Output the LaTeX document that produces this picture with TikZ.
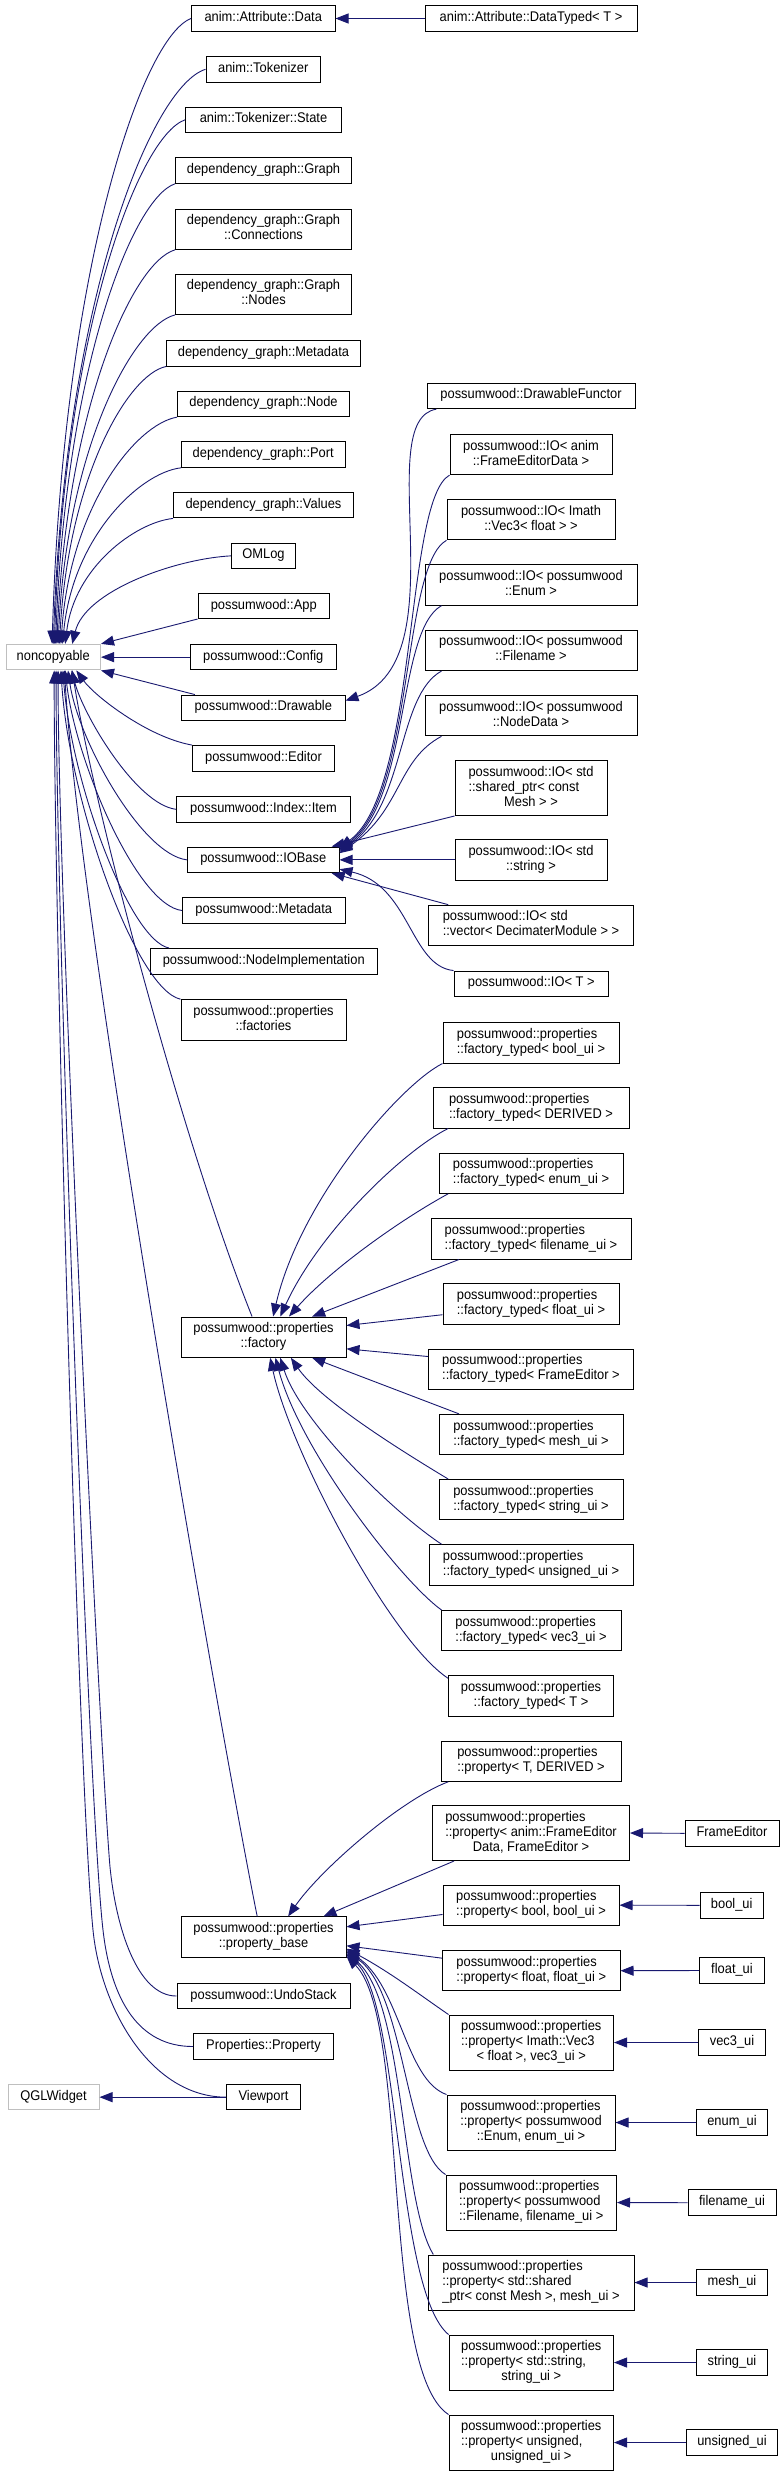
\documentclass[tikz,border=0pt]{standalone}
\usepackage{fontspec}
\setmainfont{Liberation Sans}[FakeStretch=0.92]
\usetikzlibrary{arrows.meta}
\definecolor{edgeblue}{HTML}{191970}
\definecolor{extgray}{HTML}{BFBFBF}
\newcommand{\ctext}[1]{\begin{tabular}{@{}c@{}}#1\end{tabular}}
\newcommand{\ltext}[1]{\begin{tabular}{@{}l@{}}#1\end{tabular}}
\newcommand{\ctr}[1]{\multicolumn{1}{@{}c@{}}{#1}}

\begin{document}
\begin{tikzpicture}[x=1pt, y=-1pt,
    cls/.style={draw=black, line width=1pt, fill=white, inner sep=0pt,
                minimum height=25.6pt, font=\fontsize{14}{15}\selectfont},
    ext/.style={cls, draw=extgray},
    h2/.style={minimum height=40.3pt},
    h3/.style={minimum height=55pt},
    edge/.style={draw=edgeblue, line width=0.9pt,
                 -{Triangle[length=13pt,width=10pt]}},
  ]
  \path[fill=white] (0,0) rectangle (781,2476);

  \node[ext, minimum width=94.5] (nc) at (53.25,657.15) {\ctext{noncopyable}};
  \node[ext, minimum width=91] (qgl) at (53.5,2097.15) {\ctext{QGLWidget}};

  \node[cls, minimum width=143.5] (data) at (263.25,18.5) {\ctext{anim::Attribute::Data}};
  \node[cls, minimum width=212] (dtyped) at (531,18.5) {\ctext{anim::Attribute::DataTyped< T >}};
  \node[cls, minimum width=114.5] (tok) at (263.25,69.3) {\ctext{anim::Tokenizer}};
  \node[cls, minimum width=156] (tokst) at (263.5,119.85) {\ctext{anim::Tokenizer::State}};
  \node[cls, minimum width=176] (graph) at (263.5,170.5) {\ctext{dependency\_graph::Graph}};
  \node[cls, h2, minimum width=176] (gconn) at (263.5,229.2) {\ctext{dependency\_graph::Graph\\::Connections}};
  \node[cls, h2, minimum width=176] (gnodes) at (263.5,294.3) {\ctext{dependency\_graph::Graph\\::Nodes}};
  \node[cls, minimum width=194] (dgmeta) at (263.5,353.2) {\ctext{dependency\_graph::Metadata}};
  \node[cls, minimum width=172] (dgnode) at (263.5,403.85) {\ctext{dependency\_graph::Node}};
  \node[cls, minimum width=163.5] (dgport) at (263.25,454.5) {\ctext{dependency\_graph::Port}};
  \node[cls, minimum width=180] (dgval) at (263.5,505.15) {\ctext{dependency\_graph::Values}};
  \node[cls, minimum width=64] (omlog) at (263.5,555.85) {\ctext{OMLog}};
  \node[cls, minimum width=131.5] (app) at (263.75,606.15) {\ctext{possumwood::App}};
  \node[cls, minimum width=146.5] (config) at (263.25,657.15) {\ctext{possumwood::Config}};
  \node[cls, minimum width=163.5] (drawable) at (263.25,707.85) {\ctext{possumwood::Drawable}};
  \node[cls, minimum width=142] (editor) at (263.5,758.35) {\ctext{possumwood::Editor}};
  \node[cls, minimum width=174] (item) at (263.5,809.3) {\ctext{possumwood::Index::Item}};
  \node[cls, minimum width=151.5] (iobase) at (263.25,859.85) {\ctext{possumwood::IOBase}};
  \node[cls, minimum width=162.5] (meta) at (263.75,910.5) {\ctext{possumwood::Metadata}};
  \node[cls, minimum width=227.5] (nodeimpl) at (263.75,961.35) {\ctext{possumwood::NodeImplementation}};
  \node[cls, h2, minimum width=165] (factories) at (263.5,1019.85) {\ctext{possumwood::properties\\::factories}};
  \node[cls, h2, minimum width=165] (factory) at (263.5,1337.15) {\ctext{possumwood::properties\\::factory}};
  \node[cls, h2, minimum width=165] (pbase) at (263.5,1937) {\ctext{possumwood::properties\\::property\_base}};
  \node[cls, minimum width=173] (undo) at (263.5,1996) {\ctext{possumwood::UndoStack}};
  \node[cls, minimum width=140] (prop) at (263.5,2046.5) {\ctext{Properties::Property}};
  \node[cls, minimum width=74] (viewport) at (263.5,2097.15) {\ctext{Viewport}};

  \node[cls, minimum width=208] (dfunctor) at (531,395.85) {\ctext{possumwood::DrawableFunctor}};
  \node[cls, h2, minimum width=162] (iofed) at (531,454.5) {\ctext{possumwood::IO< anim\\::FrameEditorData >}};
  \node[cls, h2, minimum width=168] (iovec3) at (531,519.65) {\ctext{possumwood::IO< Imath\\::Vec3< float > >}};
  \node[cls, h2, minimum width=212] (ioenum) at (531,585) {\ctext{possumwood::IO< possumwood\\::Enum >}};
  \node[cls, h2, minimum width=212] (iofile) at (531,650.35) {\ctext{possumwood::IO< possumwood\\::Filename >}};
  \node[cls, h2, minimum width=212] (ionode) at (531,715.65) {\ctext{possumwood::IO< possumwood\\::NodeData >}};
  \node[cls, h3, minimum width=152] (ioshared) at (531,788) {\ltext{possumwood::IO< std\\::shared\_ptr< const\\\ctr{Mesh > >}}};
  \node[cls, h2, minimum width=152] (iostring) at (531,859.85) {\ctext{possumwood::IO< std\\::string >}};
  \node[cls, h2, minimum width=205] (iovector) at (531,925.3) {\ltext{possumwood::IO< std\\::vector< DecimaterModule > >}};
  \node[cls, minimum width=154.5] (iot) at (531.25,983.85) {\ctext{possumwood::IO< T >}};

  \node[cls, h2, minimum width=176] (ftbool) at (531,1042.85) {\ltext{possumwood::properties\\::factory\_typed< bool\_ui >}};
  \node[cls, h2, minimum width=196] (ftderived) at (531,1107.85) {\ltext{possumwood::properties\\::factory\_typed< DERIVED >}};
  \node[cls, h2, minimum width=184] (ftenum) at (531,1173.15) {\ltext{possumwood::properties\\::factory\_typed< enum\_ui >}};
  \node[cls, h2, minimum width=200] (ftfile) at (531,1238.85) {\ltext{possumwood::properties\\::factory\_typed< filename\_ui >}};
  \node[cls, h2, minimum width=176] (ftfloat) at (531,1303.85) {\ltext{possumwood::properties\\::factory\_typed< float\_ui >}};
  \node[cls, h2, minimum width=205] (ftframe) at (531,1369.15) {\ltext{possumwood::properties\\::factory\_typed< FrameEditor >}};
  \node[cls, h2, minimum width=184] (ftmesh) at (531,1434.5) {\ltext{possumwood::properties\\::factory\_typed< mesh\_ui >}};
  \node[cls, h2, minimum width=184] (ftstring) at (531,1499.65) {\ltext{possumwood::properties\\::factory\_typed< string\_ui >}};
  \node[cls, h2, minimum width=204] (ftunsigned) at (531,1564.85) {\ltext{possumwood::properties\\::factory\_typed< unsigned\_ui >}};
  \node[cls, h2, minimum width=180] (ftvec3) at (531,1630.65) {\ltext{possumwood::properties\\::factory\_typed< vec3\_ui >}};
  \node[cls, h2, minimum width=165] (ftt) at (531,1695.85) {\ctext{possumwood::properties\\::factory\_typed< T >}};

  \node[cls, h2, minimum width=180] (pt) at (531,1761.15) {\ltext{possumwood::properties\\::property< T, DERIVED >}};
  \node[cls, h3, minimum width=197] (pfe) at (531,1833) {\ltext{possumwood::properties\\::property< anim::FrameEditor\\\ctr{Data, FrameEditor >}}};
  \node[cls, h2, minimum width=176] (pbool) at (531,1905.15) {\ltext{possumwood::properties\\::property< bool, bool\_ui >}};
  \node[cls, h2, minimum width=177.5] (pfloat) at (531.25,1970.7) {\ltext{possumwood::properties\\::property< float, float\_ui >}};
  \node[cls, h3, minimum width=164.5] (pvec3) at (531.25,2042.5) {\ltext{possumwood::properties\\::property< Imath::Vec3\\\ctr{< float >, vec3\_ui >}}};
  \node[cls, h3, minimum width=168] (penum) at (531,2122.5) {\ltext{possumwood::properties\\::property< possumwood\\\ctr{::Enum, enum\_ui >}}};
  \node[cls, h3, minimum width=170.5] (pfile) at (531.25,2202.5) {\ltext{possumwood::properties\\::property< possumwood\\::Filename, filename\_ui >}};
  \node[cls, h3, minimum width=206] (pshared) at (531,2282.5) {\ltext{possumwood::properties\\::property< std::shared\\\_ptr< const Mesh >, mesh\_ui >}};
  \node[cls, h3, minimum width=164.5] (pstring) at (531.25,2362.5) {\ltext{possumwood::properties\\::property< std::string,\\\ctr{string\_ui >}}};
  \node[cls, h3, minimum width=164.5] (punsigned) at (531.25,2442.5) {\ltext{possumwood::properties\\::property< unsigned,\\\ctr{unsigned\_ui >}}};

  \node[cls, minimum width=94] (fe) at (732,1833.3) {\ctext{FrameEditor}};
  \node[cls, minimum width=63.5] (boolui) at (731.75,1905.3) {\ctext{bool\_ui}};
  \node[cls, minimum width=65] (floatui) at (732,1970.5) {\ctext{float\_ui}};
  \node[cls, minimum width=67] (vec3ui) at (732,2042.5) {\ctext{vec3\_ui}};
  \node[cls, minimum width=71] (enumui) at (732,2122.5) {\ctext{enum\_ui}};
  \node[cls, minimum width=88] (fileui) at (732,2202.7) {\ctext{filename\_ui}};
  \node[cls, minimum width=71] (meshui) at (732,2282.5) {\ctext{mesh\_ui}};
  \node[cls, minimum width=71] (stringui) at (732,2362.5) {\ctext{string\_ui}};
  \node[cls, minimum width=91] (unsignedui) at (732,2442.5) {\ctext{unsigned\_ui}};

  \draw[edge] (dtyped.west) -- (data.east);
  \draw[edge] (data.west) .. controls +(-49,19) and +(11,-375) .. (nc.95);
  \draw[edge] (tok.west) .. controls +(-54,17) and +(12,-345) .. (nc.90);
  \draw[edge] (tokst.west) .. controls +(-46,16) and +(10,-314) .. (nc.85);
  \draw[edge] (graph.south west) .. controls +(-42,14) and +(10,-277) .. (nc.80);
  \draw[edge] (gconn.south west) .. controls +(-42,12) and +(10,-237) .. (nc.75);
  \draw[edge] (gnodes.south west) .. controls +(-41,10) and +(9,-198) .. (nc.70);
  \draw[edge] (dgmeta.south west) .. controls +(-38,8) and +(9,-167) .. (nc.65);
  \draw[edge] (dgnode.south west) .. controls +(-41,7) and +(9,-137) .. (nc.60);
  \draw[edge] (dgport.south west) .. controls +(-42,5) and +(10,-106) .. (nc.55);
  \draw[edge] (dgval.south west) .. controls +(-38,4) and +(9,-76) .. (nc.48);
  \draw[edge] (omlog.west) .. controls +(-56,3) and +(13,-53) .. (nc.35);
  \draw[edge] (app.191) -- (nc.north east);
  \draw[edge] (config.west) -- (nc.east);
  \draw[edge] (drawable.169) -- (nc.south east);
  \draw[edge] (editor.north west) .. controls +(-45,-8) and +(18,25) .. (nc.-30);
  \draw[edge] (item.west) .. controls +(-40,-5) and +(12,45) .. (nc.-36);
  \draw[edge] (iobase.west) .. controls +(-45,-5) and +(10,70) .. (nc.-42);
  \draw[edge] (meta.west) .. controls +(-45,-5) and +(10,90) .. (nc.-48);
  \draw[edge] (nodeimpl.172) .. controls +(-40,-8) and +(8,110) .. (nc.-54);
  \draw[edge] (factories.north west) .. controls +(-45,-10) and +(8,130) .. (nc.-60);
  \draw[edge] (factory.119) .. controls +(-70,-175) and +(20,130) .. (nc.-35);
  \draw[edge] (pbase.107) .. controls +(-40,-200) and +(15,250) .. (nc.-50);
  \draw[edge] (undo.west) .. controls (137,1996) and (116,1927) .. (110,1867)
    .. controls (100,1750) and (58,900) .. (nc.-70);
  \draw[edge] (prop.west) .. controls (138.5,2046.5) and (111,2000) .. (103,1930)
    .. controls (88,1800) and (56,900) .. (nc.-78);
  \draw[edge] (viewport.west) .. controls (151.5,2097) and (101,2010) .. (93,1930)
    .. controls (78,1780) and (54,900) .. (nc.-86);
  \draw[edge] (viewport.west) -- (qgl.east);

  \draw[edge] (dfunctor.188) .. controls (370,420) and (460,660) .. (drawable.5);
  \draw[edge] (iofed.south west) .. controls +(-45,25) and (418,790) .. (iobase.9);
  \draw[edge] (iovec3.south west) .. controls +(-45,25) and (414,795) .. (iobase.8);
  \draw[edge] (ioenum.193) .. controls +(-45,25) and (410,800) .. (iobase.7);
  \draw[edge] (iofile.193) .. controls +(-45,25) and (406,805) .. (iobase.6);
  \draw[edge] (ionode.193) .. controls +(-45,24) and (402,810) .. (iobase.5);
  \draw[edge] (ioshared.south west) -- (iobase.11);
  \draw[edge] (iostring.west) -- (iobase.east);
  \draw[edge] (iovector.166) -- (iobase.-11);
  \draw[edge] (iot.north west) .. controls (410,966) and (410,885) .. (iobase.-7);

  \draw[edge] (ftbool.south west) .. controls (400,1085) and (300,1200) .. (factory.65);
  \draw[edge] (ftderived.194) .. controls (405,1150) and (320,1230) .. (factory.51);
  \draw[edge] (ftenum.194) .. controls (400,1220) and (330,1270) .. (factory.39);
  \draw[edge] (ftfile.196) -- (factory.23);
  \draw[edge] (ftfloat.187) -- (factory.8);
  \draw[edge] (ftframe.173) -- (factory.-8);
  \draw[edge] (ftmesh.164) -- (factory.-23);
  \draw[edge] (ftstring.166) .. controls (400,1450) and (320,1400) .. (factory.-37);
  \draw[edge] (ftunsigned.167) .. controls (390,1510) and (300,1420) .. (factory.-51);
  \draw[edge] (ftvec3.167) .. controls (400,1580) and (300,1450) .. (factory.-60);
  \draw[edge] (ftt.168) .. controls (390,1640) and (290,1450) .. (factory.-72);

  \draw[edge] (pt.194) .. controls (400,1800) and (320,1870) .. (pbase.40);
  \draw[edge] (pfe.200) -- (pbase.19);
  \draw[edge] (pbool.186) -- (pbase.7);
  \draw[edge] (pfloat.172) -- (pbase.-6);
  \draw[edge] (pvec3.north west) .. controls (420,1995) and (390,1972) .. (pbase.-8);
  \draw[edge] (penum.north west) .. controls (405,2080) and (400,1985) .. (pbase.-9);
  \draw[edge] (pfile.north west) .. controls (405,2150) and (405,1990) .. (pbase.-10);
  \draw[edge] (pshared.164) .. controls (400,2200) and (405,2000) .. (pbase.-11);
  \draw[edge] (pstring.north west) .. controls (395,2290) and (400,2000) .. (pbase.-12);
  \draw[edge] (punsigned.north west) .. controls (380,2370) and (410,2020) .. (pbase.-13);

  \draw[edge] (fe.west) -- (pfe.east);
  \draw[edge] (boolui.west) -- (pbool.east);
  \draw[edge] (floatui.west) -- (pfloat.east);
  \draw[edge] (vec3ui.west) -- (pvec3.east);
  \draw[edge] (enumui.west) -- (penum.east);
  \draw[edge] (fileui.west) -- (pfile.east);
  \draw[edge] (meshui.west) -- (pshared.east);
  \draw[edge] (stringui.west) -- (pstring.east);
  \draw[edge] (unsignedui.west) -- (punsigned.east);
\end{tikzpicture}
\end{document}
